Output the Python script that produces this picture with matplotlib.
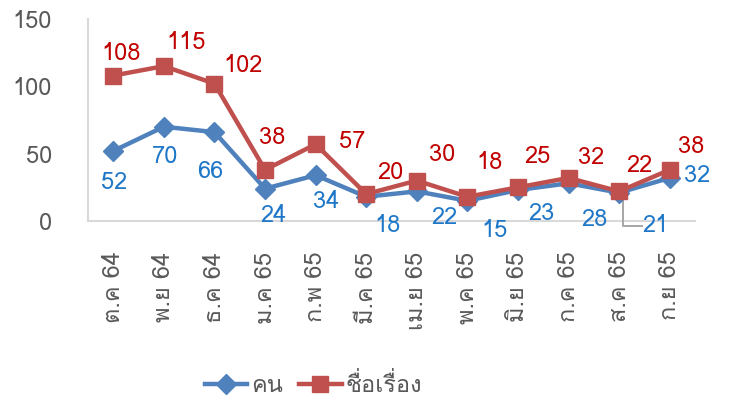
import matplotlib
matplotlib.use("Agg")
import matplotlib.pyplot as plt
from matplotlib.lines import Line2D
from matplotlib.transforms import IdentityTransform

plt.rcParams["font.family"] = ["Loma", "DejaVu Sans"]

#%% Data
months = ["ต.ค 64", "พ.ย 64", "ธ.ค 64", "ม.ค 65", "ก.พ 65", "มี.ค 65",
          "เม.ย 65", "พ.ค 65", "มิ.ย 65", "ก.ค 65", "ส.ค 65", "ก.ย 65"]
people = [52, 70, 66, 24, 34, 18, 22, 15, 23, 28, 21, 32]       # คน
titles = [108, 115, 102, 38, 57, 20, 30, 18, 25, 32, 22, 38]    # ชื่อเรื่อง
yticks = [0, 50, 100, 150]

# label offsets from the point, in pixels (x right, y up)
people_off = [(1, -32), (1, -30), (-4, -39), (8, -27), (10, -26), (21, -29),
              (28, -26), (27, -30), (23, -23), (26, -36), (36, -33), (27, 2)]
titles_off = [(8, 22), (22, 24), (29, 18), (7, 32), (37, 3), (24, 22),
              (25, 26), (22, 34), (19, 31), (23, 20), (20, 26), (21, 23)]

#%% Plot
fig = plt.figure(figsize=(7.32, 4.09), dpi=100)
ax = fig.add_axes([88/732, 1-221/409, 607/732, 202/409])
x = list(range(len(months)))
ax.plot(x, people, color="#4F81BD", lw=3.2, marker="D", ms=10, label="คน", zorder=3)
ax.plot(x, titles, color="#C0504D", lw=3.2, marker="s", ms=11.5, label="ชื่อเรื่อง", zorder=3)

for i in x:
    ax.annotate(str(people[i]), (i, people[i]), xytext=people_off[i],
                textcoords="offset pixels", ha="center", va="center",
                fontsize=17, color="#1F77C8")
    ax.annotate(str(titles[i]), (i, titles[i]), xytext=titles_off[i],
                textcoords="offset pixels", ha="center", va="center",
                fontsize=17, color="#C00000")

ax.set_xlim(-0.5, 11.5)
ax.set_ylim(0, 150)

# leader line for the crowded ส.ค label (drawn in pixels from the point)
px, py = ax.transData.transform((10, people[10]))
dx, dy = people_off[10]
ax.add_line(Line2D([px + 4, px + 4, px + dx - 13], [py - 4, py + dy, py + dy],
                   transform=IdentityTransform(), color="#A6A6A6", lw=1.4,
                   zorder=2.8, clip_on=False))

ax.set_yticks(yticks)
ax.set_xticks(x)
ax.set_xticklabels(months, rotation=90)
ax.tick_params(length=0, colors="#595959", labelsize=17)
ax.tick_params(axis="x", pad=22)
ax.tick_params(axis="y", pad=26)
for s in ["top", "right"]:
    ax.spines[s].set_visible(False)
ax.spines["left"].set_color("#D9D9D9")
ax.spines["bottom"].set_color("#D9D9D9")
ax.spines["left"].set_linewidth(1.5)
ax.spines["bottom"].set_linewidth(1.5)

fig.legend(loc="center", bbox_to_anchor=(0.428, 1-385/409), ncol=2, frameon=False,
           fontsize=17, labelcolor="#595959", handlelength=1.8, handletextpad=0.15,
           columnspacing=0.7)
fig.savefig("out.png")
